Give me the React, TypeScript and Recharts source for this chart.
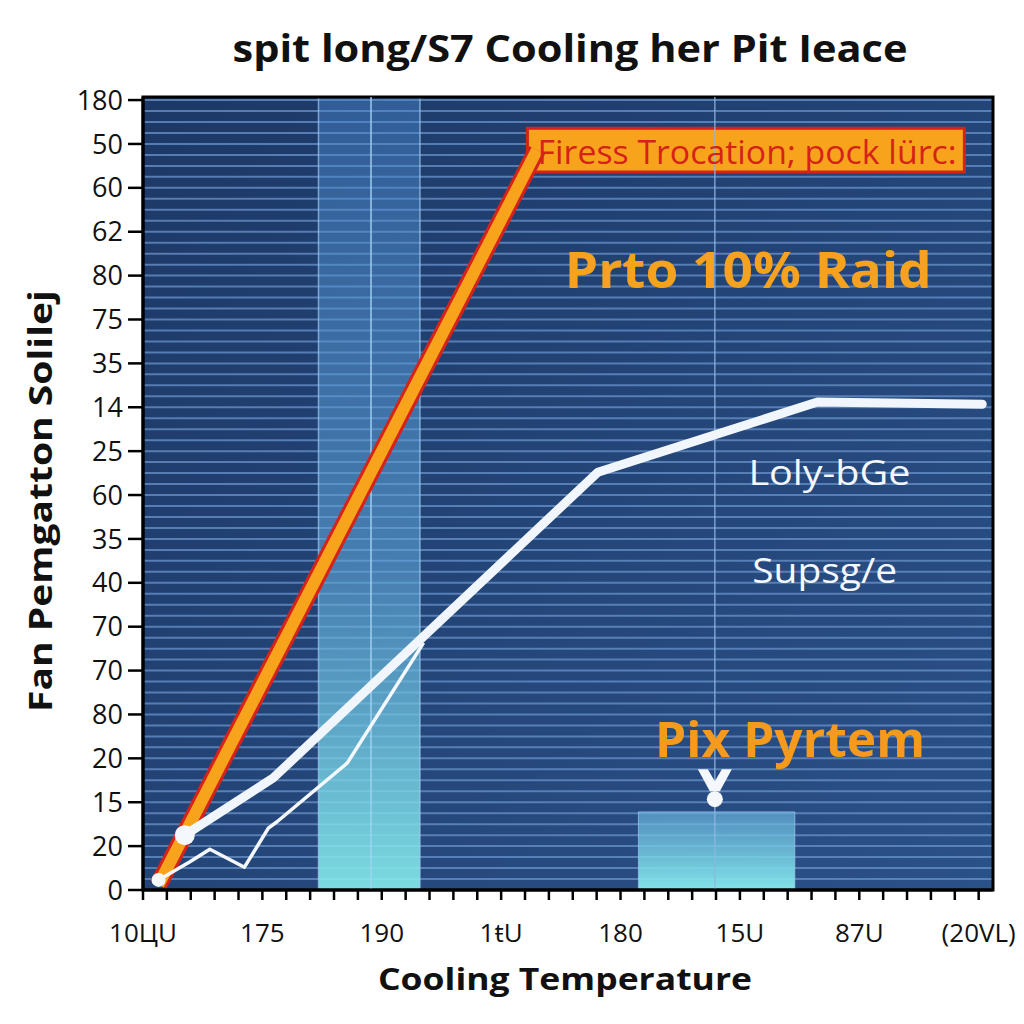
import React from "react";
import {
  LineChart,
  Line,
  XAxis,
  YAxis,
  CartesianGrid,
  ReferenceArea,
  ReferenceLine,
  ReferenceDot,
} from "recharts";

// tick labels, top to bottom on the y axis
const yTickLabels = ["180", "50", "60", "62", "80", "75", "35", "14", "25", "60", "35", "40", "70", "70", "80", "20", "15", "20", "0"];
const xTickLabels = ["10ЦU", "175", "190", "1ŧU", "180", "15U", "87U", "(20VL)"];

// series (t = position on temperature axis, v = value on fan axis)
const thermalLimit = [
  { t: 0.13, v: 0.12 },
  { t: 3.3, v: 16.86 },
];
const fanCurve = [
  { t: 0.35, v: 1.25 },
  { t: 1.09, v: 2.55 },
  { t: 3.81, v: 9.52 },
  { t: 5.65, v: 11.12 },
  { t: 7.03, v: 11.07 },
];
const measured = [
  { t: 0.13, v: 0.23 },
  { t: 0.39, v: 0.64 },
  { t: 0.56, v: 0.93 },
  { t: 0.85, v: 0.52 },
  { t: 1.05, v: 1.41 },
  { t: 1.12, v: 1.55 },
  { t: 1.71, v: 2.89 },
  { t: 2.35, v: 5.63 },
];

// shaded zones and guides
const boostZone = { from: 1.47, to: 2.32, mid: 1.91 };
const idleZone = { from: 4.15, to: 5.46, top: 1.78 };
const idleGuide = 4.79;
const limitBox = { from: 3.22, to: 6.88, bottom: 16.36, top: 17.36 };
const idleMarker = { t: 4.79, v: 2.07 };

const notes = [
  { t: 5.06, v: 16.54, text: "Firess Trocation; pock lürc:", color: "#d6231a", size: 32, weight: 400, width: 419 },
  { t: 5.07, v: 13.71, text: "Prto 10% Raid", color: "#f7a21e", size: 50, weight: 700, width: 367 },
  { t: 5.75, v: 9.23, text: "Loly-bGe", color: "#f4f8fc", size: 34, weight: 400, width: 162 },
  { t: 5.71, v: 6.99, text: "Supsg/e", color: "#f4f8fc", size: 34, weight: 400, width: 145 },
  { t: 5.42, v: 3.03, text: "Pix Pyrtem", color: "#f59a1c", size: 48, weight: 700, width: 270 },
];

const X_MAX = 7.12;
const Y_MAX = 18.07;
const xTicks = Array.from({ length: 36 }, (_, i) => +(i * 0.2).toFixed(2));
const yTicks = Array.from({ length: 19 }, (_, i) => i);
const stripes = Array.from({ length: 72 }, (_, i) => +(i * 0.25 + 0.25).toFixed(2));

const FONT = "'Open Sans', 'Liberation Sans', sans-serif";

function XTick({ x, y, payload }: any) {
  const v = payload.value as number;
  const i = Math.round(v);
  if (Math.abs(v - i) > 0.01) return null;
  return (
    <text x={x} y={y + 40} textAnchor="middle" fontSize={26} fill="#111" fontFamily={FONT}>
      {xTickLabels[i]}
    </text>
  );
}

function noteShape(n: (typeof notes)[number]) {
  return (p: any) => (
    <text
      x={p.cx}
      y={p.cy}
      textAnchor="middle"
      fontSize={n.size}
      fontWeight={n.weight}
      fill={n.color}
      fontFamily={FONT}
      textLength={n.width}
      lengthAdjust="spacingAndGlyphs"
    >
      {n.text}
    </text>
  );
}

function markerShape(p: any) {
  const { cx, cy } = p;
  return (
    <g>
      <polygon
        points={`${cx - 17},${cy - 30} ${cx - 7},${cy - 30} ${cx},${cy - 18} ${cx + 7},${cy - 30} ${cx + 17},${cy - 30} ${cx + 5},${cy - 8} ${cx - 5},${cy - 8}`}
        fill="#f4f8fc"
      />
      <circle cx={cx} cy={cy} r={8} fill="#f4f8fc" />
    </g>
  );
}

function dotShape(r: number) {
  return (p: any) => <circle cx={p.cx} cy={p.cy} r={r} fill="#f4f8fc" />;
}

export default function App() {
  return (
    <div style={{ position: "fixed", left: 0, top: 0, width: 1024, height: 1024, background: "#fff" }}>
      <LineChart width={1024} height={1024} margin={{ top: 97, right: 31, left: 0, bottom: 0 }}>
        <defs>
          <linearGradient id="plotBg" x1="0" y1="0" x2="1" y2="1">
            <stop offset="0%" stopColor="#1c3866" />
            <stop offset="100%" stopColor="#2b5189" />
          </linearGradient>
          <linearGradient id="zoneFill" x1="0" y1="0" x2="0" y2="1">
            <stop offset="0%" stopColor="#4a86cc" stopOpacity={0.45} />
            <stop offset="60%" stopColor="#5fa6d8" stopOpacity={0.6} />
            <stop offset="100%" stopColor="#86ecec" stopOpacity={0.9} />
          </linearGradient>
          <linearGradient id="idleFill" x1="0" y1="0" x2="0" y2="1">
            <stop offset="0%" stopColor="#6ab3df" stopOpacity={0.65} />
            <stop offset="100%" stopColor="#86ecec" stopOpacity={0.95} />
          </linearGradient>
        </defs>
        <CartesianGrid
          vertical={false}
          horizontalValues={stripes}
          stroke="#6a93c9"
          strokeOpacity={0.75}
          strokeWidth={2}
          fill="url(#plotBg)"
          fillOpacity={1}
        />
        <XAxis
          type="number"
          dataKey="t"
          domain={[0, X_MAX]}
          ticks={xTicks}
          interval={0}
          height={134}
          tickSize={10}
          axisLine={{ stroke: "#000", strokeWidth: 3 }}
          tickLine={{ stroke: "#000", strokeWidth: 2.5 }}
          tick={<XTick />}
          allowDataOverflow
        />
        <YAxis
          type="number"
          domain={[0, Y_MAX]}
          ticks={yTicks}
          interval={0}
          width={143}
          tickSize={15}
          tickMargin={5}
          axisLine={{ stroke: "#000", strokeWidth: 3 }}
          tickLine={{ stroke: "#000", strokeWidth: 2.5 }}
          tick={{ fontSize: 27, fill: "#111", fontFamily: FONT }}
          tickFormatter={(v: number) => yTickLabels[18 - v]}
          allowDataOverflow
        />
        <ReferenceArea
          x1={boostZone.from}
          x2={boostZone.to}
          y1={0}
          y2={Y_MAX}
          fill="url(#zoneFill)"
          fillOpacity={1}
          stroke="#9ccbf0"
          strokeOpacity={0.7}
          strokeWidth={1.5}
        />
        <ReferenceLine x={boostZone.mid} stroke="#a4d2f3" strokeOpacity={0.7} strokeWidth={2} />
        <ReferenceLine x={idleGuide} stroke="#8fb6e2" strokeOpacity={0.8} strokeWidth={1.5} />
        <ReferenceArea
          x1={idleZone.from}
          x2={idleZone.to}
          y1={0}
          y2={idleZone.top}
          fill="url(#idleFill)"
          fillOpacity={1}
          stroke="#9ccbf0"
          strokeOpacity={0.7}
        />
        <Line
          data={thermalLimit}
          dataKey="v"
          type="linear"
          stroke="#d6231a"
          strokeWidth={18}
          dot={false}
          activeDot={false}
          isAnimationActive={false}
        />
        <Line
          data={thermalLimit}
          dataKey="v"
          type="linear"
          stroke="#f8a31c"
          strokeWidth={12}
          dot={false}
          activeDot={false}
          isAnimationActive={false}
        />
        <ReferenceArea
          x1={limitBox.from}
          x2={limitBox.to}
          y1={limitBox.bottom}
          y2={limitBox.top}
          fill="#f8a31c"
          fillOpacity={1}
          stroke="#d6231a"
          strokeWidth={3}
        />
        <Line
          data={measured}
          dataKey="v"
          type="linear"
          stroke="#f4f8fc"
          strokeWidth={3.5}
          strokeLinejoin="round"
          dot={false}
          activeDot={false}
          isAnimationActive={false}
        />
        <Line
          data={fanCurve}
          dataKey="v"
          type="linear"
          stroke="#f0f6fb"
          strokeWidth={9}
          strokeLinejoin="round"
          strokeLinecap="round"
          dot={false}
          activeDot={false}
          isAnimationActive={false}
        />
        <ReferenceDot x={measured[0].t} y={measured[0].v} r={7} shape={dotShape(7)} />
        <ReferenceDot x={fanCurve[0].t} y={fanCurve[0].v} r={10} shape={dotShape(10)} />
        <ReferenceDot x={idleMarker.t} y={idleMarker.v} r={8} shape={markerShape} />
        {notes.map((n) => (
          <ReferenceDot key={n.text} x={n.t} y={n.v} r={1} shape={noteShape(n)} />
        ))}
        <ReferenceArea
          x1={0}
          x2={X_MAX}
          y1={0}
          y2={Y_MAX}
          fill="none"
          fillOpacity={0}
          stroke="#000"
          strokeWidth={3}
        />
      </LineChart>
      <svg
        width={1024}
        height={1024}
        style={{ position: "absolute", left: 0, top: 0, pointerEvents: "none" }}
      >
        <text
          x={570}
          y={62}
          textAnchor="middle"
          fontSize={38}
          fontWeight={700}
          fill="#111"
          fontFamily={FONT}
          textLength={675}
          lengthAdjust="spacingAndGlyphs"
        >
          spit long/S7 Cooling her Pit Ieace
        </text>
        <text
          x={565}
          y={990}
          textAnchor="middle"
          fontSize={30}
          fontWeight={700}
          fill="#111"
          fontFamily={FONT}
          textLength={374}
          lengthAdjust="spacingAndGlyphs"
        >
          Cooling Temperature
        </text>
        <text
          transform="translate(52, 501) rotate(-90)"
          textAnchor="middle"
          fontSize={32}
          fontWeight={700}
          fill="#111"
          fontFamily={FONT}
          textLength={422}
          lengthAdjust="spacingAndGlyphs"
        >
          Fan Pemgatton Solilej
        </text>
      </svg>
    </div>
  );
}
